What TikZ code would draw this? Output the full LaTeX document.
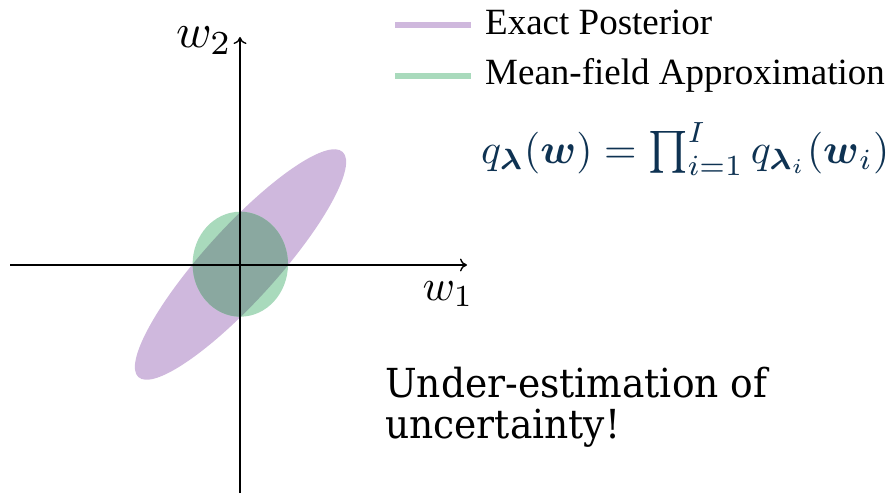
\documentclass[tikz,border=0pt]{standalone}
\usepackage{amsmath}
\usepackage{graphicx}
\usepackage{fontspec}
\usetikzlibrary{arrows.meta}
\newfontfamily\legendfont{Liberation Serif}
\newfontfamily\notefont[FakeStretch=0.94]{DejaVu Serif}
\definecolor{postcol}{HTML}{CFB8DD}
\definecolor{mfcol}{HTML}{A9DABC}
\definecolor{overlapcol}{HTML}{8AA8A0}
\definecolor{formcol}{HTML}{0E3252}
\tikzset{
  axis/.style={line width=1.4pt, black, -{Computer Modern Rightarrow[length=7pt,width=13pt,line width=1.4pt]}},
  legline/.style={line width=5.5pt},
  legtext/.style={anchor=base west, inner sep=0pt, font=\legendfont\fontsize{37}{42}\selectfont},
  axlabel/.style={inner sep=0pt},
  notetext/.style={anchor=base west, inner sep=0pt, font=\notefont\fontsize{40}{44}\selectfont}
}
\begin{document}
\begin{tikzpicture}[x=1pt,y=1pt]
\useasboundingbox (0,0) rectangle (896,493);
% shapes
\fill[postcol] (240.5,228.5) ellipse[x radius=152, y radius=36.5, rotate=47.8];
\fill[mfcol] (240.3,228.8) ellipse[x radius=47.7, y radius=52.5];
\begin{scope}
  \clip (240.5,228.5) ellipse[x radius=152, y radius=36.5, rotate=47.8];
  \fill[overlapcol] (240.3,228.8) ellipse[x radius=47.7, y radius=52.5];
\end{scope}
% axes
\coordinate (xs) at (10,228);
\coordinate (xe) at (467,228);
\coordinate (ys) at (240,0);
\coordinate (ye) at (240,456);
\draw[axis] (xs) -- (xe);
\draw[axis] (ys) -- (ye);
\node[axlabel] (w2) at (204,452) {\resizebox{56pt}{!}{$w_2$}};
\node[axlabel] (w1) at (448,199) {\resizebox{51pt}{!}{$w_1$}};
% legend
\coordinate (l1a) at (395,468);
\coordinate (l1b) at (471,468);
\coordinate (l2a) at (395,417);
\coordinate (l2b) at (471,417);
\draw[legline, postcol] (l1a) -- (l1b);
\draw[legline, mfcol] (l2a) -- (l2b);
\node[legtext] (t1) at (485,458) {Exact Posterior};
\node[legtext] (t2) at (485,408) {Mean-field Approximation};
% formula
\node[anchor=west, inner sep=0pt, text=formcol] (f) at (481,344) {\resizebox{408pt}{!}{$q_{\boldsymbol{\lambda}}(\boldsymbol{w}) = \prod_{i=1}^{I} q_{\boldsymbol{\lambda}_i}(\boldsymbol{w}_i)$}};
% note
\node[notetext] (n1) at (385,96) {Under-estimation of};
\node[notetext] (n2) at (385,55) {uncertainty!};
\end{tikzpicture}
\end{document}
